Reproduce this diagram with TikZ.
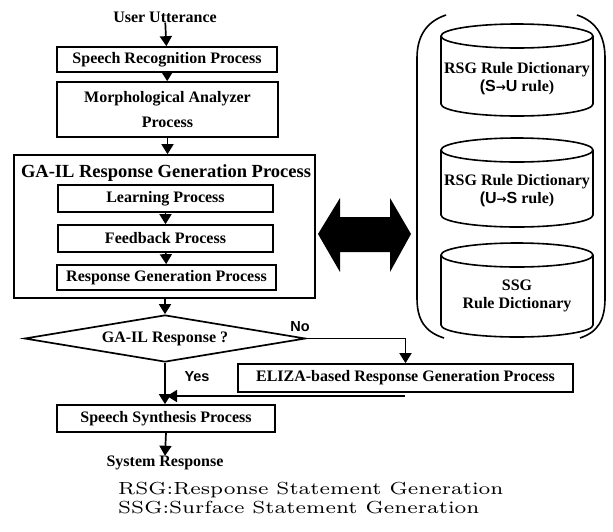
\documentclass[tikz,border=0pt]{standalone}
\usepackage{fontspec}
\newfontfamily\tb{Liberation Serif}
\newfontfamily\arial{Liberation Sans}
\newfontfamily\dejavu{DejaVu Sans}
\usetikzlibrary{arrows.meta,shapes.geometric}
\newcommand{\dtxt}{\tb\bfseries\fontsize{16}{17}\selectfont}
\tikzset{
  box/.style={draw, line width=1.7pt, inner sep=0pt, font=\dtxt, align=center},
  lbl/.style={inner sep=0pt, font=\dtxt, align=center},
  arr/.style={-{Triangle[length=10pt,width=12pt]}, line width=1.7pt},
  thin/.style={line width=1.6pt},
  yn/.style={inner sep=0pt, font=\arial\bfseries\fontsize{14.5}{16}\selectfont},
  legend/.style={inner sep=0pt, anchor=west}
}
\begin{document}
\begin{tikzpicture}[x=1pt,y=-1pt]
\useasboundingbox (0,0) rectangle (613,531);
% left flow
\node[lbl] (user) at (165,17) {User Utterance};
\node[box, minimum width=220pt, minimum height=25pt] (sr) at (167,59.5) {Speech Recognition Process};
\node[box, minimum width=221pt, minimum height=55pt, font=\tb\bfseries\fontsize{16}{25}\selectfont] (morph) at (167.5,109.5) {Morphological Analyzer\\Process};
\node[box, minimum width=301pt, minimum height=143pt] (ga) at (164.5,226.5) {};
\node[lbl, font=\tb\bfseries\fontsize{18.5}{20}\selectfont] (gatitle) at (166,173) {GA-IL Response Generation Process};
\node[box, minimum width=215pt, minimum height=27pt] (learn) at (165.5,198.5) {Learning Process};
\node[box, minimum width=215pt, minimum height=27pt] (feed) at (165.5,238.5) {Feedback Process};
\node[box, minimum width=219pt, minimum height=25pt] (rgp) at (166.5,277.5) {Response Generation Process};
\node[box, diamond, aspect=6, minimum width=281pt, minimum height=47pt] (dia) at (165,338.5) {GA-IL Response ?};
\node[box, minimum width=335pt, minimum height=28pt] (eliza) at (405.5,378) {ELIZA-based Response Generation Process};
\node[box, minimum width=218pt, minimum height=27pt] (synth) at (166,418.5) {Speech Synthesis Process};
\node[lbl] (sys) at (165,463) {System Response};
\node[yn] (no) at (300,327) {No};
\node[yn] (yes) at (197,377) {Yes};
\coordinate (ret) at (405,396);
\coordinate (retend) at (167,396);
% connectors
\draw[arr] (user) -- (sr);
\draw[arr] (sr) -- (morph);
\draw[arr] (morph.south) -- (morph.south |- ga.north);
\draw[arr] (learn) -- (feed);
\draw[arr] (feed) -- (rgp);
\draw[arr] (dia.north |- ga.south) -- (dia.north);
\draw[arr] (dia.east) -| (eliza.north);
\draw[arr] (dia.south) -- (dia.south |- synth.north);
\draw[arr] (ret) -- (retend);
\draw[arr] (synth.south) -- (sys.north);
% double arrow
\fill (318,234) -- (340,198) -- (340,217) -- (390,217) -- (390,198) -- (411,234)
  -- (390,272) -- (390,252) -- (340,252) -- (340,272) -- cycle;
% bracket
\draw[thin] (446,15) .. controls (425,22) and (417,38) .. (417,58) -- (417,298)
  .. controls (417,320) and (425,332) .. (444,338);
\draw[thin] (577,15) .. controls (598,22) and (605,38) .. (605,58) -- (605,298)
  .. controls (605,320) and (598,332) .. (580,338);
% cylinders
\foreach \t/\b in {36/104, 150/215, 255/325}{
  \draw[thin] (441,\t) -- (441,\b) arc[start angle=180, end angle=0, x radius=76, y radius=12] -- (593,\t);
  \draw[thin] (517,\t) ellipse[x radius=76, y radius=12];
}
\node[lbl, font=\tb\bfseries\fontsize{16}{18}\selectfont] (c1) at (517,79) {RSG Rule Dictionary\\{\arial (S{\dejavu\fontsize{12}{12}\selectfont →}U} rule)};
\node[lbl, font=\tb\bfseries\fontsize{16}{18}\selectfont] (c2) at (517,191) {RSG Rule Dictionary\\{\arial (U{\dejavu\fontsize{12}{12}\selectfont →}S} rule)};
\node[lbl, font=\tb\bfseries\fontsize{16}{18}\selectfont] (c3) at (517,296) {SSG\\Rule Dictionary};
% legend
\node[legend] (l1) at (118,490) {\scalebox{2.95}[2.5]{\fontsize{7}{8}\selectfont RSG:Response Statement Generation}};
\node[legend] (l2) at (118,508) {\scalebox{2.95}[2.5]{\fontsize{7}{8}\selectfont SSG:Surface Statement Generation}};
\end{tikzpicture}
\end{document}
